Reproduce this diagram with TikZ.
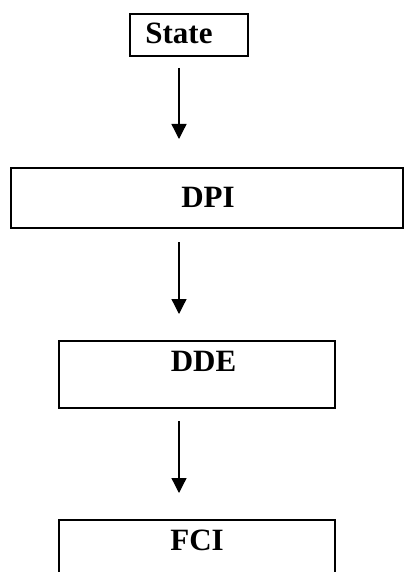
\documentclass[tikz,border=0pt]{standalone}
\usepackage{fontspec}
\setmainfont{Liberation Serif}
\usetikzlibrary{arrows.meta}
\tikzset{
  box/.style={draw, line width=1.6pt, inner sep=0pt, outer sep=0pt},
  title/.style={font=\fontsize{31}{31}\selectfont\bfseries, inner sep=0pt, anchor=base},
  flow/.style={line width=1.3pt, -{Triangle[width=15pt,length=15pt]}}
}
\begin{document}
\begin{tikzpicture}[x=1pt,y=-1pt]
  \clip (0,0) rectangle (404,572);
  \fill[white] (0,0) rectangle (404,572);
  % boxes
  \node[box, minimum width=118pt, minimum height=42pt] (state) at (189,35) {};
  \node[box, minimum width=392pt, minimum height=60pt] (dpi) at (207,198) {};
  \node[box, minimum width=276pt, minimum height=67pt] (dde) at (197,374.5) {};
  \node[box, minimum width=276pt, minimum height=70pt] (fci) at (197,555) {};
  % vertical line the connectors run along
  \coordinate (axis) at (179,0);
  % labels
  \node[title] (tState) at (179,44) {State};
  \node[title] (tDPI) at (208,207) {DPI};
  \node[title] (tDDE) at (203.5,371) {DDE};
  \node[title] (tFCI) at (197,550) {FCI};
  % connectors
  \draw[flow, shorten <=12pt, shorten >=29pt] (state.south -| axis) -- (dpi.north -| axis);
  \draw[flow, shorten <=14pt, shorten >=27pt] (dpi.south -| axis) -- (dde.north -| axis);
  \draw[flow, shorten <=13pt, shorten >=27pt] (dde.south -| axis) -- (fci.north -| axis);
\end{tikzpicture}
\end{document}
